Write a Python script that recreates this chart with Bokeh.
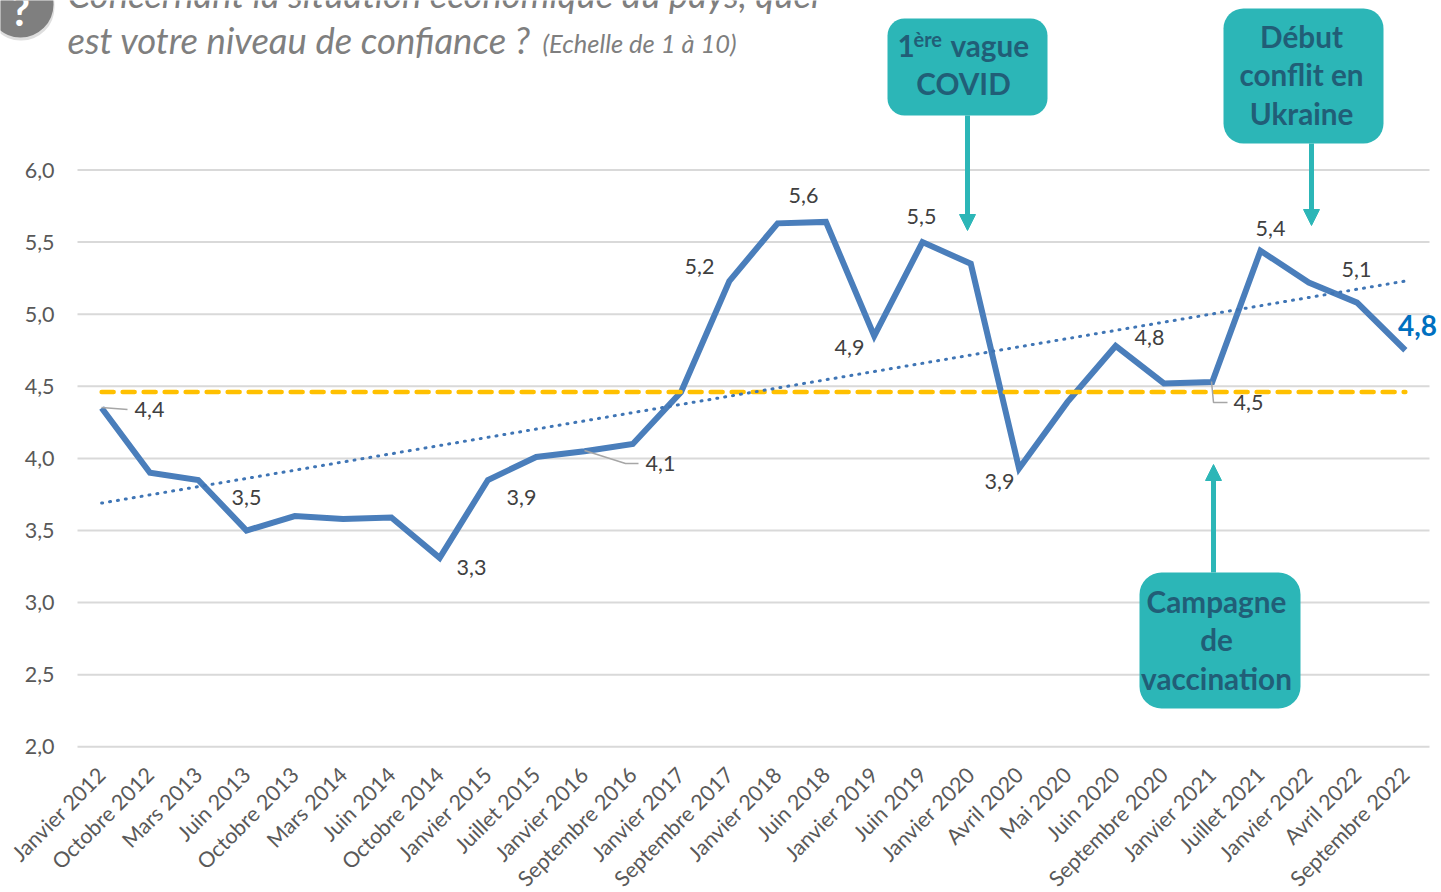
from math import pi
from bokeh.plotting import figure
from bokeh.embed import file_html
from bokeh.resources import INLINE
from bokeh.models import Range1d, FixedTicker, Label, BoxAnnotation, Arrow, NormalHead

categories = ["Janvier 2012","Octobre 2012","Mars 2013","Juin 2013","Octobre 2013","Mars 2014","Juin 2014",
              "Octobre 2014","Janvier 2015","Juillet 2015","Janvier 2016","Septembre 2016","Janvier 2017",
              "Septembre 2017","Janvier 2018","Juin 2018","Janvier 2019","Juin 2019","Janvier 2020","Avril 2020",
              "Mai 2020","Juin 2020","Septembre 2020","Janvier 2021","Juillet 2021","Janvier 2022","Avril 2022",
              "Septembre 2022"]
confiance = [4.35,3.90,3.85,3.50,3.60,3.58,3.59,3.31,3.85,4.01,4.05,4.10,4.46,5.23,5.63,5.64,4.85,5.50,5.35,
             3.93,4.39,4.78,4.52,4.53,5.44,5.22,5.08,4.75]
moyenne = [4.46, 4.46]
tendance = [3.69, 5.23]
y_ticks = [2.0,2.5,3.0,3.5,4.0,4.5,5.0,5.5,6.0]
point_labels = ["4,4","3,5","3,3","3,9","4,1","5,2","5,6","4,9","5,5","3,9","4,8","5,4","5,1","4,5"]
label_pos = [(149,409),(246,497),(471,567),(521,497),(660,463),(699,266),(803,195),(849,347),(921,216),
             (999,481),(1149,337),(1270,228),(1356,269),(1248,402)]

W, H = 1441, 892
L, R = 77, 1429
STEP = (R - L) / 28
PXY = 144.2
X = lambda px: (px - L) / STEP - 0.5
Y = lambda py: 6 - (py - 169.5) / PXY

GREY_T = "#7f7f7f"; TEAL = "#2cb6b7"; NAVY = "#215e77"; FONT = "Lato"

p = figure(width=W, height=H, output_backend="svg", toolbar_location=None,
           x_range=Range1d(X(0), X(W)), y_range=Range1d(Y(H), Y(0)),
           min_border=0, outline_line_color=None, margin=(0, 0, 0, 0))
p.xgrid.visible = False
p.ygrid.visible = False
p.segment(x0=[-0.5] * len(y_ticks), x1=[27.5] * len(y_ticks), y0=y_ticks, y1=y_ticks,
          line_color="#d9d9d9", line_width=2)

p.yaxis.ticker = FixedTicker(ticks=y_ticks)
p.yaxis.major_label_overrides = {t: f"{t:.1f}".replace(".", ",") for t in y_ticks}
p.yaxis.fixed_location = -0.5
p.xaxis.ticker = FixedTicker(ticks=list(range(len(categories))))
p.xaxis.major_label_overrides = {i: c for i, c in enumerate(categories)}
p.xaxis.major_label_orientation = pi / 4
p.xaxis.fixed_location = 2.0
for ax in (p.xaxis[0], p.yaxis[0]):
    ax.axis_line_color = None
    ax.major_tick_line_color = None
    ax.minor_tick_line_color = None
    ax.major_label_text_font = FONT
    ax.major_label_text_color = "#595959"
    ax.major_label_text_font_size = "21.5px"
p.yaxis.major_label_standoff = 17
p.xaxis.major_label_standoff = 18

xs = list(range(len(confiance)))
p.line(xs, confiance, line_color="#4a7ebb", line_width=6, line_join="miter")
p.line([0, 27], moyenne, line_color="#ffc000", line_width=4.5, line_dash="12 9", line_cap="round")
p.line([0, 27], tendance, line_color="#3f75b5", line_width=3, line_dash="1 7", line_cap="round")

# leader lines
for seg in ([(101,407),(127,409)], [(584,450),(625,463),(638,463)], [(1211,381),(1213,402),(1227,402)]):
    p.line([X(a) for a, _ in seg], [Y(b) for _, b in seg], line_color="#a6a6a6", line_width=1.5)

def text(px, py, s, size, color, style="normal", align="center", base="middle"):
    p.add_layout(Label(x=X(px), y=Y(py), text=s, text_font=FONT, text_font_size=f"{size}px", text_color=color,
                       text_font_style=style, text_align=align, text_baseline=base))

for s, (a, b) in zip(point_labels, label_pos):
    text(a, b, s, 21.5, "#404040")
text(1417, 325, "4,8", 28, "#0070c0", "bold")

# title
text(67, -7, "Concernant la situation économique du pays, quel", 36.5, GREY_T, "italic", "left", "alphabetic")
text(67, 39, "est votre niveau de confiance ?", 36.5, GREY_T, "italic", "left", "alphabetic")
text(542, 42, "(Echelle de 1 à 10)", 25.5, GREY_T, "italic", "left", "alphabetic")

def box(l, t, r, b, color, radius, alpha=1.0):
    p.add_layout(BoxAnnotation(left=X(l), right=X(r), top=Y(t), bottom=Y(b), fill_color=color, fill_alpha=alpha,
                               line_color=None, border_radius=radius, level="annotation"))

box(-13, -29, 54, 40, "#d0d0d0", 33, 0.7)
box(-13, -29, 53, 37, "#7f7f7f", 33)
text(20, 9, "?", 42, "#ffffff", "bold")

def arrow(x, y0, y1):
    p.add_layout(Arrow(end=NormalHead(size=16, fill_color=TEAL, line_color=TEAL, line_width=1),
                       x_start=X(x), y_start=Y(y0), x_end=X(x), y_end=Y(y1), line_color=TEAL, line_width=5))

arrow(967, 115, 230)
arrow(1311, 143, 225)
arrow(1213, 572, 464)

box(887, 18, 1047, 115, TEAL, 17)
box(1223, 8, 1383, 143, TEAL, 20)
box(1139, 572, 1300, 708, TEAL, 22)

BS = 29.7
text(897, 45, "1", BS, NAVY, "bold", "left")
text(913, 38, "ère", 20, NAVY, "bold", "left")
text(950, 45, "vague", BS, NAVY, "bold", "left")
text(963, 83, "COVID", BS, NAVY, "bold")
text(1301, 36, "Début", BS, NAVY, "bold")
text(1301, 74, "conflit en", BS, NAVY, "bold")
text(1301, 113, "Ukraine", BS, NAVY, "bold")
text(1216, 601, "Campagne", BS, NAVY, "bold")
text(1216, 639, "de", BS, NAVY, "bold")
text(1216, 678, "vaccination", BS, NAVY, "bold")

open("out.html", "w").write(file_html(p, INLINE))
